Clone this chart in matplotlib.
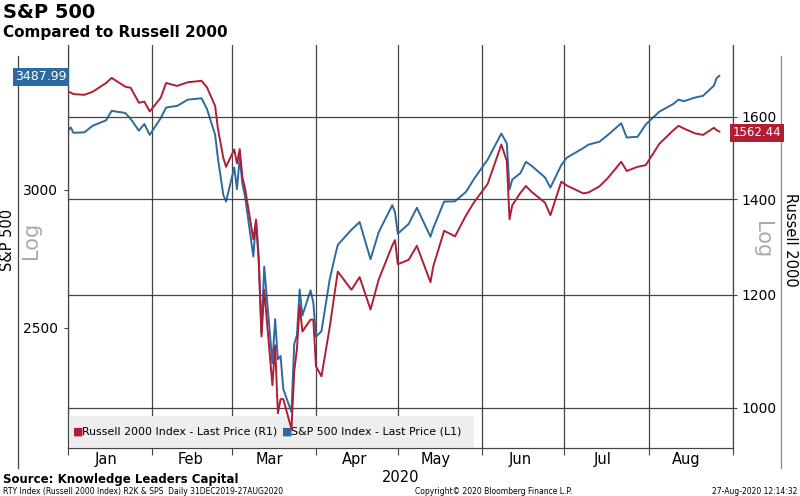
import matplotlib
matplotlib.use("Agg")
import matplotlib.pyplot as plt
import matplotlib.dates as mdates
from matplotlib.lines import Line2D
from matplotlib.patches import Rectangle
import matplotlib.ticker as mt
import pandas as pd

dates = ["2019-12-31","2020-01-02","2020-01-03","2020-01-07","2020-01-10","2020-01-15","2020-01-17","2020-01-22","2020-01-24","2020-01-27","2020-01-29","2020-01-31",
 "2020-02-04","2020-02-06","2020-02-10","2020-02-14","2020-02-19","2020-02-21","2020-02-24","2020-02-25","2020-02-27","2020-02-28",
 "2020-03-02","2020-03-03","2020-03-04","2020-03-05","2020-03-06","2020-03-09","2020-03-10","2020-03-11","2020-03-12","2020-03-13","2020-03-16","2020-03-17","2020-03-18","2020-03-19","2020-03-20","2020-03-23","2020-03-24","2020-03-25","2020-03-26","2020-03-27","2020-03-30","2020-03-31",
 "2020-04-01","2020-04-03","2020-04-06","2020-04-08","2020-04-09","2020-04-14","2020-04-17","2020-04-21","2020-04-24","2020-04-29","2020-04-30",
 "2020-05-01","2020-05-05","2020-05-08","2020-05-13","2020-05-14","2020-05-18","2020-05-22","2020-05-26","2020-05-29",
 "2020-06-03","2020-06-08","2020-06-10","2020-06-11","2020-06-12","2020-06-15","2020-06-17","2020-06-19","2020-06-24","2020-06-26","2020-06-30",
 "2020-07-02","2020-07-08","2020-07-10","2020-07-14","2020-07-17","2020-07-22","2020-07-24","2020-07-28","2020-07-31",
 "2020-08-05","2020-08-10","2020-08-12","2020-08-14","2020-08-18","2020-08-21","2020-08-25","2020-08-26","2020-08-27"]
spx = [3231,3258,3235,3237,3265,3289,3330,3321,3295,3244,3273,3226,
 3298,3345,3352,3380,3386,3338,3226,3128,2979,2954,
 3090,3003,3130,3024,2972,2747,2882,2741,2481,2711,2386,2529,2398,2409,2305,2237,2447,2476,2630,2541,2627,2585,
 2471,2489,2664,2750,2790,2846,2875,2737,2837,2940,2912,
 2831,2868,2930,2820,2852,2954,2955,2992,3044,
 3123,3232,3190,3002,3041,3067,3113,3098,3050,3009,3100,
 3130,3170,3185,3197,3225,3276,3215,3218,3271,
 3327,3360,3380,3373,3389,3397,3443,3478,3487.99]
rty = [1668,1664,1660,1658,1666,1690,1704,1680,1677,1637,1640,1614,
 1650,1690,1682,1692,1696,1678,1628,1570,1497,1476,
 1518,1484,1519,1451,1424,1313,1355,1264,1122,1210,1037,1106,991,1014,1014,966,1060,1100,1180,1131,1153,1153,
 1069,1052,1138,1210,1246,1210,1235,1172,1230,1300,1311,
 1261,1270,1299,1225,1256,1331,1319,1364,1394,
 1436,1530,1490,1356,1387,1415,1431,1418,1393,1365,1441,
 1432,1414,1416,1430,1449,1488,1466,1476,1480,
 1532,1565,1577,1570,1558,1554,1572,1566,1562.44]
months = ["Jan","Feb","Mar","Apr","May","Jun","Jul","Aug"]

d = pd.to_datetime(dates)
RED = "#b01e35"; BLUE = "#2d6aa0"
fig = plt.figure(figsize=(8, 4.96), dpi=100)
ax = fig.add_axes([68/800, 48/496, 665/800, 403/496])
ax2 = ax.twinx()
ax.plot(d, spx, color=BLUE, lw=1.4, zorder=3)
ax2.plot(d, rty, color=RED, lw=1.4, zorder=3)
for a in (ax, ax2):
    a.set_yscale("log")
    a.yaxis.set_minor_locator(mt.NullLocator())
    a.set_xlim(pd.Timestamp("2020-01-01"), pd.Timestamp("2020-09-01"))
ax.set_ylim(2133, 3633)
ax2.set_ylim(937, 1797)
ax.set_yticks([2500, 3000]); ax.set_yticklabels(["2500", "3000"])
ax2.set_yticks([1000, 1200, 1400, 1600]); ax2.set_yticklabels(["1000", "1200", "1400", "1600"])
ax2.grid(True, axis="y", color="#444444", lw=0.9)
ax.tick_params(axis="y", length=3, pad=4, labelsize=10, color="#444444")
ax2.tick_params(axis="y", length=3, pad=3, labelsize=10, color="#444444")
ax.xaxis.set_major_locator(mdates.MonthLocator())
ax.xaxis.set_major_formatter(mt.NullFormatter())
ax.xaxis.set_minor_locator(mdates.MonthLocator(bymonthday=15))
ax.xaxis.set_minor_formatter(mt.FixedFormatter(months))
ax.tick_params(axis="x", which="major", length=5, color="#444444")
ax.tick_params(axis="x", which="minor", length=0, labelsize=10.5, pad=3)
ax.grid(True, axis="x", which="major", color="#444444", lw=0.9)
ax.set_xlabel("2020", fontsize=10.5, labelpad=2)
for a in (ax, ax2):
    for s in a.spines.values():
        s.set_color("#444444")
    a.spines["top"].set_visible(False)

fig.add_artist(Line2D([18/800, 18/800], [28/496, 440/496], color="#444444", lw=0.9))
fig.add_artist(Line2D([781/800, 781/800], [28/496, 440/496], color="#888888", lw=0.9))
fig.text(8/800, 1-240/496, "S&P 500", rotation=90, ha="center", va="center", fontsize=10.5)
fig.text(31/800, 1-240/496, "Log", rotation=90, ha="center", va="center", fontsize=15, color="#aaaaaa")
fig.text(791/800, 1-240/496, "Russell 2000", rotation=270, ha="center", va="center", fontsize=10.5)
fig.text(762/800, 1-240/496, "Log", rotation=270, ha="center", va="center", fontsize=15, color="#aaaaaa")

fig.text(41/800, 1-77/496, f"{spx[-1]:.2f}", ha="center", va="center", color="white", fontsize=9,
         bbox=dict(boxstyle="square,pad=0.2", fc=BLUE, ec="none"))
fig.text(757/800, 1-133/496, f"{rty[-1]:.2f}", ha="center", va="center", color="white", fontsize=8.5,
         bbox=dict(boxstyle="square,pad=0.2", fc=RED, ec="none"))

ax.add_patch(Rectangle((0, 0), 406/665, 32/403, transform=ax.transAxes, fc="#eeeeee", ec="none", zorder=4))
ax.text(5/665, 16/403, "■", color=RED, transform=ax.transAxes, va="center", fontsize=8, zorder=5)
ax.text(14/665, 16/403, "Russell 2000 Index - Last Price (R1)", transform=ax.transAxes, va="center", fontsize=7.9, zorder=5)
ax.text(214/665, 16/403, "■", color=BLUE, transform=ax.transAxes, va="center", fontsize=8, zorder=5)
ax.text(223/665, 16/403, "S&P 500 Index - Last Price (L1)", transform=ax.transAxes, va="center", fontsize=7.9, zorder=5)

fig.text(3/800, 1-12/496, "S&P 500", fontsize=14, fontweight="bold", va="center")
fig.text(3/800, 1-32/496, "Compared to Russell 2000", fontsize=11, fontweight="bold", va="center")
fig.text(3/800, 1-479/496, "Source: Knowledge Leaders Capital", fontsize=8.5, fontweight="bold", va="center")
fig.text(3/800, 1-491/496, "RTY Index (Russell 2000 Index) R2K & SPS  Daily 31DEC2019-27AUG2020", fontsize=5.5, va="center")
fig.text(415/800, 1-491/496, "Copyright\u00a9 2020 Bloomberg Finance L.P.", fontsize=5.5, va="center")
fig.text(797/800, 1-491/496, "27-Aug-2020 12:14:32", fontsize=5.5, va="center", ha="right")
fig.savefig("out.png", dpi=100)
